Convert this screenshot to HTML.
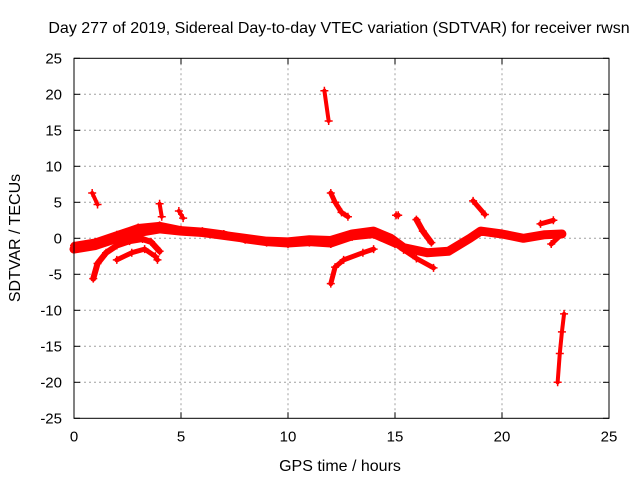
<!DOCTYPE html>
<html><head><meta charset="utf-8"><style>
body{margin:0;background:#fff;}
svg{display:block;font-family:"Liberation Sans",sans-serif;}
</style></head><body>
<svg id="chart" width="640" height="480">
<text x="339" y="33" font-size="16" text-anchor="middle">Day 277 of 2019, Sidereal Day-to-day VTEC variation (SDTVAR) for receiver rwsn</text>
<text x="340" y="471" font-size="16" text-anchor="middle">GPS time / hours</text>
<text transform="translate(20,238) rotate(-90)" font-size="16" text-anchor="middle">SDTVAR / TECUs</text>
<g id="grid"></g><g id="marks"></g><g id="axes"></g>
</svg>
<script>
const xTicks=[0,5,10,15,20,25];
const yTicks=[25,20,15,10,5,0,-5,-10,-15,-20,-25];
const trackMain=[[0,-1.5],[1,-1],[2,0],[3,0.8],[4,1.3],[5,1],[6,0.8],[7,0.4],[8,0],[9,-0.4],[10,-0.5],[11,-0.2],[12,-0.3],[13,0.6],[14,1],[14.8,0],[15.4,-1.3],[16.5,-2],[17.5,-1.8],[18.5,0],[19,1],[20,0.6],[21,0],[22,0.5],[22.8,0.6]];
const trackMain2=[[0,-1],[1,-0.5],[2,0.5],[3,1.5],[4,1.8],[5,1.2],[6,1],[7,0.6],[8,-0.2],[9,-0.6],[10,-0.8],[11,-0.6],[12,-0.8],[13,0.2],[14,0.5],[15,-0.8]];
const trackHook=[[0.9,-5.6],[1.1,-3.5],[1.5,-2],[2,-1],[2.6,-0.4],[3.2,-0.1],[3.6,-0.5],[4,-1.8]];
const trackHook2=[[2,-3],[2.7,-2],[3.3,-1.5],[3.8,-2.5],[3.9,-3]];
const trackC=[[0.85,6.3],[1.1,4.7]];
const trackD=[[4,4.8],[4.1,3]];
const trackD2=[[4.9,3.8],[5.1,2.8]];
const trackE=[[11.7,20.5],[11.9,16.3]];
const trackF=[[12,6.3],[12.2,5],[12.5,3.6],[12.8,3]];
const trackG=[[12,-6.3],[12.2,-4],[12.6,-3],[13.5,-2],[14,-1.5]];
const trackH=[[15.05,3.2],[15.15,3.2]];
const trackI=[[16,2.6],[16.3,1],[16.7,-0.6]];
const trackJ=[[15.4,-1.6],[16,-2.8],[16.8,-4.1]];
const trackK=[[18.65,5.2],[19.2,3.3]];
const trackL=[[22.6,-20],[22.7,-16],[22.8,-13],[22.9,-10.5]];
const trackM=[[21.8,2],[22.4,2.5]];
const trackN=[[22.3,-0.8],[22.8,0.6]];
const tracks=[[trackMain,9],[trackMain2,7],[trackHook,6],[trackHook2,5],[trackC,4],[trackD,4],[trackD2,4],[trackE,4],[trackF,5],[trackG,5],[trackH,5],[trackI,6],[trackJ,5],[trackK,5],[trackL,4],[trackM,5],[trackN,5]];
const X0=74,X1=609,Y0=58.3,Y1=418.3;
const sx=v=>X0+(v-0)/25*(X1-X0);
const sy=v=>Y0+(25-v)/50*(Y1-Y0);
const NS="http://www.w3.org/2000/svg";
function mk(t,a,p){const e=document.createElementNS(NS,t);for(const k in a)e.setAttribute(k,a[k]);p.appendChild(e);return e;}
const grid=document.getElementById('grid'),axes=document.getElementById('axes'),marks=document.getElementById('marks');
xTicks.forEach(t=>{
  if(t>0&&t<25){const l=mk('line',{x1:sx(t),x2:sx(t),y1:Y0,y2:Y1,stroke:'#a0a0a0','stroke-dasharray':'2,3'},grid);
  
  }
  const tx=mk('text',{x:sx(t),y:Y1+23,'font-size':15,'text-anchor':'middle'},axes);tx.textContent=t;
  
  
  mk('line',{x1:sx(t),x2:sx(t),y1:Y1,y2:Y1-6,stroke:'#000'},axes);
  mk('line',{x1:sx(t),x2:sx(t),y1:Y0,y2:Y0+6,stroke:'#000'},axes);
});
yTicks.forEach(t=>{
  if(t<25&&t>-25){const l=mk('line',{x1:X0,x2:X1,y1:sy(t),y2:sy(t),stroke:'#a0a0a0','stroke-dasharray':'2,3'},grid);
  
  }
  const tx=mk('text',{x:X0-12,y:sy(t)+5,'font-size':15,'text-anchor':'end'},axes);tx.textContent=t;
  
  
  mk('line',{x1:X0,x2:X0+6,y1:sy(t),y2:sy(t),stroke:'#000'},axes);
  mk('line',{x1:X1,x2:X1-6,y1:sy(t),y2:sy(t),stroke:'#000'},axes);
});
const fr=mk('rect',{x:X0,y:Y0,width:X1-X0,height:Y1-Y0,fill:'none',stroke:'#000'},axes);


tracks.forEach(([pts,w])=>{
  const pl=mk('polyline',{points:pts.map(p=>sx(p[0])+','+sy(p[1])).join(' '),fill:'none',stroke:'#ff0000','stroke-width':w,'stroke-linejoin':'round','stroke-linecap':'round'},marks);
  
  
  pts.forEach(p=>{
    const g=mk('path',{d:`M${sx(p[0])-4},${sy(p[1])}h8M${sx(p[0])},${sy(p[1])-4}v8`,stroke:'#ff0000','stroke-width':1.5},marks);
    
    
  });
});
</script>
</body></html>
